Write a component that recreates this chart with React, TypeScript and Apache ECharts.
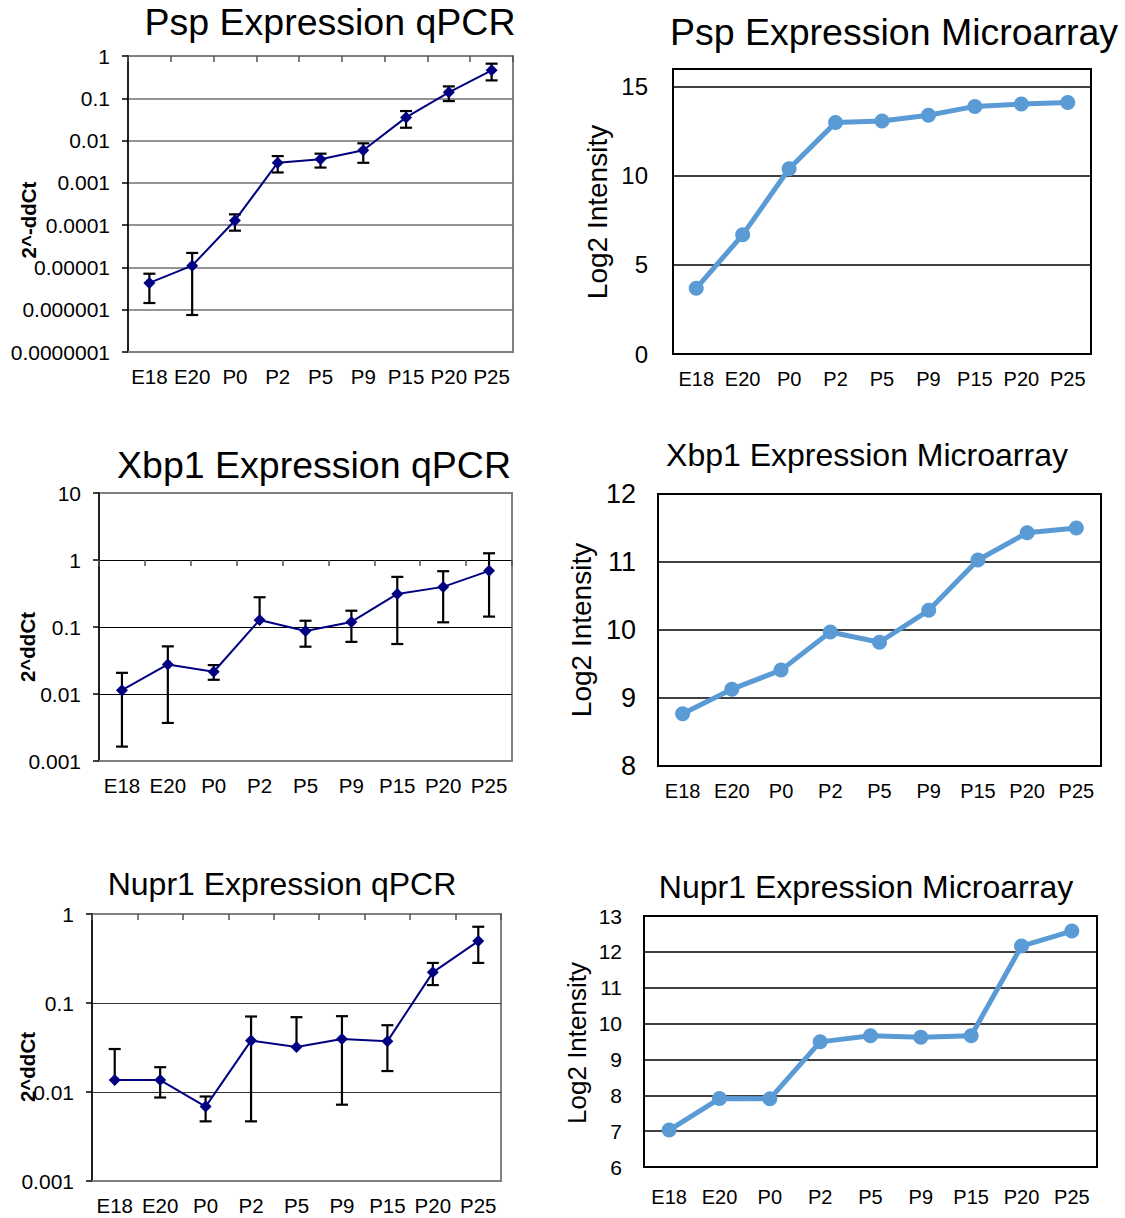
import React, { useEffect, useRef } from 'react';
import * as echarts from 'echarts';

const categories = ['E18', 'E20', 'P0', 'P2', 'P5', 'P9', 'P15', 'P20', 'P25'];

// Psp
const pspQpcr = [4.3e-6, 1.1e-5, 1.29e-4, 3.0e-3, 3.6e-3, 5.9e-3, 0.0353, 0.138, 0.458];
const pspQpcrHigh = [7.1e-6, 2.2e-5, 1.8e-4, 4.3e-3, 4.9e-3, 8.6e-3, 0.0499, 0.191, 0.658];
const pspQpcrLow = [1.44e-6, 7.5e-7, 7.4e-5, 1.76e-3, 2.3e-3, 2.98e-3, 0.0201, 0.086, 0.265];
const pspQpcrTicks = ['0.0000001', '0.000001', '0.00001', '0.0001', '0.001', '0.01', '0.1', '1'];
const pspArray = [3.69, 6.69, 10.4, 12.99, 13.08, 13.4, 13.9, 14.03, 14.12];

// Xbp1
const xbpQpcr = [0.0114, 0.0276, 0.0215, 0.127, 0.087, 0.119, 0.312, 0.397, 0.689];
const xbpQpcrHigh = [0.0207, 0.0514, 0.027, 0.278, 0.124, 0.175, 0.56, 0.68, 1.26];
const xbpQpcrLow: (number | null)[] = [0.00164, 0.0037, 0.0163, null, 0.0508, 0.06, 0.0557, 0.1175, 0.143];
const xbpQpcrTicks = ['0.001', '0.01', '0.1', '1', '10'];
const xbpArray = [8.77, 9.13, 9.41, 9.97, 9.82, 10.29, 11.03, 11.43, 11.5];

// Nupr1
const nuprQpcr = [0.0136, 0.0136, 0.00686, 0.0378, 0.032, 0.0395, 0.0371, 0.221, 0.496];
const nuprQpcrHigh = [0.0304, 0.019, 0.0089, 0.0705, 0.0693, 0.0711, 0.0563, 0.282, 0.719];
const nuprQpcrLow: (number | null)[] = [null, 0.00867, 0.00468, 0.00468, null, 0.0072, 0.0172, 0.159, 0.282];
const nuprQpcrTicks = ['0.001', '0.01', '0.1', '1'];
const nuprArray = [7.03, 7.91, 7.9, 9.49, 9.66, 9.62, 9.66, 12.16, 12.58];

const FONT = "'Liberation Sans', Arial, Helvetica, sans-serif";

export default function App() {
  const ref = useRef<HTMLDivElement>(null);

  useEffect(() => {
    const chart = echarts.init(ref.current!, null, { renderer: 'svg' });

    const grids: any[] = [];
    const xAxes: any[] = [];
    const yAxes: any[] = [];
    const series: any[] = [];
    const graphics: any[] = [];

    const addTitle = (text: string, x: number, y: number, size: number) => {
      graphics.push({
        type: 'text', x, y, silent: true,
        style: { text, fontSize: size, fontFamily: FONT, fill: '#000', align: 'center', verticalAlign: 'middle' },
      });
    };
    const addYName = (text: string, x: number, y: number, size: number, bold: boolean) => {
      graphics.push({
        type: 'text', x, y, rotation: Math.PI / 2, silent: true,
        style: { text, fontSize: size, fontWeight: bold ? 'bold' : 'normal', fontFamily: FONT, fill: '#000', align: 'center', verticalAlign: 'middle' },
      });
    };

    const qpcrPanel = (p: any) => {
      const gi = grids.length;
      grids.push({ left: p.left, top: p.top, width: p.width, height: p.height, show: true, borderColor: '#808080', borderWidth: 2, backgroundColor: 'transparent' });
      const xb = xAxes.length;
      xAxes.push({
        type: 'category', gridIndex: gi, data: categories, position: 'bottom', boundaryGap: true,
        axisLine: { show: true, lineStyle: { color: '#808080', width: 2 } },
        axisTick: { show: false },
        axisLabel: { color: '#000', fontSize: 20.5, fontFamily: FONT, margin: 14, interval: 0 },
      });
      const lmin = Math.log10(p.min), lmax = Math.log10(p.max);
      const offset = -p.height * (lmax - 0) / (lmax - lmin);
      xAxes.push({
        type: 'category', gridIndex: gi, data: categories, position: 'top', boundaryGap: true, offset,
        axisLine: { show: false },
        axisTick: { show: true, inside: true, length: 6, lineStyle: { color: '#505050', width: 1.5 } },
        axisLabel: { show: false },
        splitLine: { show: false },
      });
      const yi = yAxes.length;
      yAxes.push({
        type: 'log', logBase: 10, gridIndex: gi, min: p.min, max: p.max,
        axisLine: { show: true, lineStyle: { color: '#000', width: 1.5 } },
        axisTick: { show: true, inside: false, length: 6, lineStyle: { color: '#000', width: 1.5 } },
        minorTick: { show: false },
        axisLabel: {
          color: '#000', fontSize: 21, fontFamily: FONT, margin: p.yMargin,
          formatter: (v: number) => p.ticks[Math.round(Math.log10(v) - lmin)] ?? '',
        },
        splitLine: { show: true, showMinLine: false, showMaxLine: false, lineStyle: { color: p.gridColor, width: p.gridWidth } },
      });
      const errData = p.vals.map((v: number, i: number) => [i, p.low[i] ?? v, p.high[i], p.low[i] == null ? 0 : 1]);
      series.push({
        type: 'custom', xAxisIndex: xb, yAxisIndex: yi, z: 2, data: errData, silent: true,
        renderItem: (params: any, api: any) => {
          const i = api.value(0);
          const pLo = api.coord([i, api.value(1)]);
          const pHi = api.coord([i, api.value(2)]);
          const w = 6;
          const st = { stroke: '#000', lineWidth: 2.2 };
          const children: any[] = [
            { type: 'line', shape: { x1: pLo[0], y1: pLo[1], x2: pHi[0], y2: pHi[1] }, style: st },
            { type: 'line', shape: { x1: pHi[0] - w, y1: pHi[1], x2: pHi[0] + w, y2: pHi[1] }, style: st },
          ];
          if (api.value(3) === 1) {
            children.push({ type: 'line', shape: { x1: pLo[0] - w, y1: pLo[1], x2: pLo[0] + w, y2: pLo[1] }, style: st });
          }
          return { type: 'group', children };
        },
      });
      series.push({
        type: 'line', xAxisIndex: xb, yAxisIndex: yi, z: 3, data: p.vals,
        symbol: 'diamond', symbolSize: 12,
        lineStyle: { color: '#000080', width: 2 },
        itemStyle: { color: '#000080' },
      });
    };

    const arrayPanel = (p: any) => {
      const gi = grids.length;
      grids.push({ left: p.left, top: p.top, width: p.width, height: p.height, show: true, borderColor: '#000', borderWidth: 2, backgroundColor: 'transparent' });
      const xb = xAxes.length;
      xAxes.push({
        type: 'category', gridIndex: gi, data: categories, position: 'bottom', boundaryGap: true,
        axisLine: { show: false }, axisTick: { show: false },
        axisLabel: { color: '#000', fontSize: 20, fontFamily: FONT, margin: p.xMargin, interval: 0 },
      });
      const yi = yAxes.length;
      yAxes.push({
        type: 'value', gridIndex: gi, min: p.min, max: p.max, interval: p.interval,
        axisLine: { show: false }, axisTick: { show: false },
        axisLabel: { color: '#000', fontSize: p.yFont, fontFamily: FONT, margin: p.yMargin, showMaxLabel: p.showMax },
        splitLine: { show: true, lineStyle: { color: '#000', width: 1.5 } },
      });
      series.push({
        type: 'line', xAxisIndex: xb, yAxisIndex: yi, z: 3, data: p.vals,
        symbol: 'circle', symbolSize: 15,
        lineStyle: { color: '#5B9BD5', width: 5 },
        itemStyle: { color: '#5B9BD5' },
      });
    };

    // Psp
    qpcrPanel({ left: 128, top: 56, width: 385, height: 296, vals: pspQpcr, low: pspQpcrLow, high: pspQpcrHigh, ticks: pspQpcrTicks, min: 1e-7, max: 1, yMargin: 18, gridColor: '#707070', gridWidth: 1.5 });
    arrayPanel({ left: 673, top: 69, width: 418, height: 285, vals: pspArray, min: 0, max: 16, interval: 5, showMax: false, yFont: 24, yMargin: 25, xMargin: 15 });
    // Xbp1
    qpcrPanel({ left: 99, top: 493, width: 413, height: 268, vals: xbpQpcr, low: xbpQpcrLow, high: xbpQpcrHigh, ticks: xbpQpcrTicks, min: 0.001, max: 10, yMargin: 18, gridColor: '#000', gridWidth: 1 });
    arrayPanel({ left: 658, top: 494, width: 443, height: 272, vals: xbpArray, min: 8, max: 12, interval: 1, showMax: true, yFont: 27, yMargin: 22, xMargin: 15 });
    // Nupr1
    qpcrPanel({ left: 92, top: 914, width: 409, height: 267, vals: nuprQpcr, low: nuprQpcrLow, high: nuprQpcrHigh, ticks: nuprQpcrTicks, min: 0.001, max: 1, yMargin: 18, gridColor: '#333', gridWidth: 1 });
    arrayPanel({ left: 644, top: 916, width: 453, height: 251, vals: nuprArray, min: 6, max: 13, interval: 1, showMax: true, yFont: 21, yMargin: 22, xMargin: 20 });

    addTitle('Psp Expression qPCR', 330, 22, 37.5);
    addTitle('Psp Expression Microarray', 894, 32, 37.5);
    addTitle('Xbp1 Expression qPCR', 314, 465, 37.5);
    addTitle('Xbp1 Expression Microarray', 867, 455, 32);
    addTitle('Nupr1 Expression qPCR', 282, 884, 32);
    addTitle('Nupr1 Expression Microarray', 866, 887, 32);

    addYName('2^-ddCt', 28, 220, 20.5, true);
    addYName('Log2 Intensity', 597, 212, 28, false);
    addYName('2^ddCt', 27, 647, 20.5, true);
    addYName('Log2 Intensity', 581, 630, 28, false);
    addYName('2^ddCt', 27, 1067, 20.5, true);
    addYName('Log2 Intensity', 577, 1043, 26, false);

    chart.setOption({
      animation: false,
      backgroundColor: '#fff',
      textStyle: { fontFamily: FONT },
      grid: grids,
      xAxis: xAxes,
      yAxis: yAxes,
      series,
      graphic: graphics,
    });

    return () => chart.dispose();
  }, []);

  return <div ref={ref} style={{ position: 'absolute', left: 0, top: 0, width: 1125, height: 1218 }} />;
}
